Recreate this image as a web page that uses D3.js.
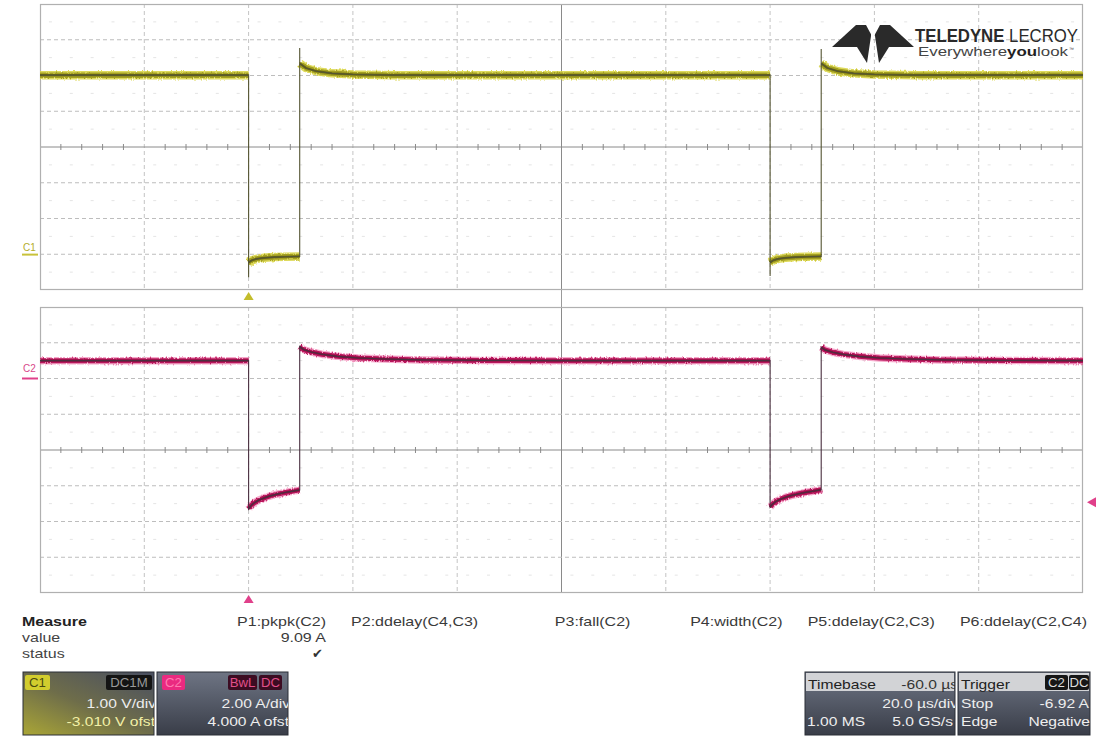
<!DOCTYPE html>
<html><head><meta charset="utf-8">
<script src="https://cdn.jsdelivr.net/npm/d3@7"></script>
<style>
html,body{margin:0;padding:0;background:#fff;}
svg{display:block;font-family:"Liberation Sans",Arial,sans-serif;}
</style></head><body>
<svg id="chart" width="1107" height="738"></svg>
<script>
// ---- acquisition settings ----
const timeDomain = [-40, 160];          // µs relative to trigger
const timeDivs = 10, vertDivs = 8;
const c1Setup = {perDiv: 1.00, offset: -3.010};   // V/div, V offset
const c2Setup = {perDiv: 2.00, offset: 4.000};    // A/div, A offset
const triggerTime = 0;
const triggerLevel = -6.92;             // A on C2

// ---- C1 : voltage (V) ----
const c1Time  = [-40, 0, 0, 0, 0.6, 1.5, 3, 5, 7, 9.8, 9.8, 9.8, 11, 13, 16, 20, 28, 100,
                 100, 100, 100.6, 101.5, 103, 105, 107, 109.8, 109.8, 109.8, 111, 113, 116, 120, 128, 160];
const c1Volts = [5.02, 5.02, -0.63, -0.22, -0.16, -0.12, -0.09, -0.07, -0.06, -0.05, 5.78, 5.35, 5.22, 5.13, 5.07, 5.04, 5.02, 5.02,
                 -0.60, -0.22, -0.16, -0.12, -0.09, -0.07, -0.06, -0.05, 5.75, 5.35, 5.22, 5.13, 5.07, 5.04, 5.02, 5.02];

// ---- C2 : current (A) ----
const c2Time = [-40, 0, 0, 0.5, 1, 2, 3, 4, 5.5, 7, 8.5, 9.8, 9.8, 10.5, 12, 14, 17, 21, 26, 33, 45, 60, 100,
                100, 100.5, 101, 102, 103, 104, 105.5, 107, 108.5, 109.8, 109.8, 110.5, 112, 114, 117, 121, 126, 133, 145, 160];
const c2Amps = [1.00, 1.00, -7.30, -7.10, -6.97, -6.80, -6.68, -6.58, -6.47, -6.38, -6.30, -6.24, 1.79, 1.62, 1.48, 1.36, 1.24, 1.15, 1.09, 1.04, 1.01, 1.00, 1.00,
                -7.20, -7.02, -6.90, -6.75, -6.64, -6.55, -6.45, -6.36, -6.29, -6.22, 1.75, 1.60, 1.47, 1.35, 1.24, 1.15, 1.09, 1.04, 1.01, 1.00];

// ---- measurement table ----
const measureNames  = ["P1:pkpk(C2)", "P2:ddelay(C4,C3)", "P3:fall(C2)", "P4:width(C2)", "P5:ddelay(C2,C3)", "P6:ddelay(C2,C4)"];
const measureValues = ["9.09 A", "", "", "", "", ""];
const measureStatus = ["\u2714", "", "", "", "", ""];
const measureRows   = ["Measure", "value", "status"];

const svg = d3.select("#chart");
const defs = svg.append("defs");

const X0 = 40, X1 = 1083;
const panels = [{y0: 4, y1: 290}, {y0: 307, y1: 593}];

const x = d3.scaleLinear().domain(timeDomain).range([X0, X1]);
function chanScale(setup, p) {
  const half = vertDivs / 2 * setup.perDiv;
  return d3.scaleLinear().domain([-half - setup.offset, half - setup.offset]).range([p.y1, p.y0]);
}
const y1s = chanScale(c1Setup, panels[0]);
const y2s = chanScale(c2Setup, panels[1]);

// widen a text element horizontally (the display font runs wide)
function widen(sel, k) {
  const n = sel.node();
  const w = n.getComputedTextLength();
  sel.attr("textLength", w * k).attr("lengthAdjust", "spacingAndGlyphs");
  return sel;
}

// noisy-edge filter for the acquisition traces
const noise = defs.append("filter").attr("id", "jitter").attr("filterUnits", "userSpaceOnUse")
  .attr("x", 0).attr("y", 0).attr("width", 1107).attr("height", 738);
noise.append("feTurbulence").attr("type", "fractalNoise").attr("baseFrequency", "0.8 0.25").attr("numOctaves", 2).attr("seed", 3).attr("result", "n");
noise.append("feDisplacementMap").attr("in", "SourceGraphic").attr("in2", "n").attr("scale", 3)
  .attr("xChannelSelector", "R").attr("yChannelSelector", "G");

// ---- graticule ----
function drawGrid(p) {
  const g = svg.append("g");
  const dx = (X1 - X0) / timeDivs, dy = (p.y1 - p.y0) / vertDivs;
  for (let j = 0; j < vertDivs; j++) {
    const yy = p.y0 + (j + 0.5) * dy;
    for (let i = 0; i < timeDivs * 5; i++) {
      const xx = X0 + (i + 0.5) * dx / 5;
      g.append("line").attr("x1", xx - 1.5).attr("x2", xx + 1.5).attr("y1", yy).attr("y2", yy)
        .attr("stroke", "#e4e4e4").attr("stroke-width", 1);
    }
  }
  for (let i = 1; i < timeDivs; i++) {
    const xx = X0 + i * dx;
    const centre = i === timeDivs / 2;
    g.append("line").attr("x1", xx).attr("x2", xx).attr("y1", p.y0).attr("y2", p.y1)
      .attr("stroke", centre ? "#8a8a8a" : "#c4c4c4").attr("stroke-width", 1)
      .attr("stroke-dasharray", centre ? null : "4,3");
  }
  for (let j = 1; j < vertDivs; j++) {
    const yy = p.y0 + j * dy;
    const centre = j === vertDivs / 2;
    g.append("line").attr("x1", X0).attr("x2", X1).attr("y1", yy).attr("y2", yy)
      .attr("stroke", centre ? "#8a8a8a" : "#bdbdbd").attr("stroke-width", 1)
      .attr("stroke-dasharray", centre ? null : "4,3");
  }
  const yc = p.y0 + vertDivs / 2 * dy;
  for (let i = 1; i < timeDivs * 5; i++) {
    if (i % 5 === 0) continue;
    const xx = X0 + i * dx / 5;
    g.append("line").attr("x1", xx).attr("x2", xx).attr("y1", yc - 3).attr("y2", yc + 3)
      .attr("stroke", "#8a8a8a").attr("stroke-width", 1);
  }
  g.append("rect").attr("x", X0 + 0.5).attr("y", p.y0 + 0.5).attr("width", X1 - X0 - 1).attr("height", p.y1 - p.y0 - 1)
    .attr("fill", "none").attr("stroke", "#b0b0b0").attr("stroke-width", 1.2);
}
panels.forEach(drawGrid);
svg.append("line").attr("x1", (X0 + X1) / 2).attr("x2", (X0 + X1) / 2)
  .attr("y1", panels[0].y1).attr("y2", panels[1].y0).attr("stroke", "#9a9a9a");

// ---- traces ----
function toPoints(ts, vs) { return ts.map((t, i) => [t, vs[i]]); }
// flat runs between vertical edges (an edge = repeated time stamp)
function flatSegments(pts) {
  const segs = []; let cur = [pts[0]];
  for (let i = 1; i < pts.length; i++) {
    if (pts[i][0] === pts[i - 1][0]) { if (cur.length > 1) segs.push(cur); cur = [pts[i]]; }
    else cur.push(pts[i]);
  }
  if (cur.length > 1) segs.push(cur);
  return segs;
}
function drawTrace(pts, ys, style) {
  const line = d3.line().x(d => x(d[0])).y(d => ys(d[1]));
  const g = svg.append("g");
  const segs = flatSegments(pts);
  style.bands.forEach(b => {
    g.append("g").attr("filter", b.jitter ? "url(#jitter)" : null)
      .selectAll(null).data(segs).join("path").attr("d", line)
      .attr("fill", "none").attr("stroke", b.color).attr("stroke-width", b.width)
      .attr("stroke-opacity", b.opacity).attr("stroke-linejoin", "round").attr("stroke-linecap", "butt");
  });
  g.append("path").attr("d", line(pts)).attr("fill", "none")
    .attr("stroke", style.core).attr("stroke-width", 1.1).attr("stroke-linejoin", "miter");
}
drawTrace(toPoints(c1Time, c1Volts), y1s, {
  bands: [{color: "#d8d440", width: 8.5, opacity: 0.85, jitter: true}, {color: "#a4a024", width: 5.5, opacity: 1, jitter: true}, {color: "#6a6814", width: 2.2, opacity: 1}],
  core: "#555533"
});
drawTrace(toPoints(c2Time, c2Amps), y2s, {
  bands: [{color: "#f070a8", width: 7.5, opacity: 0.6, jitter: true}, {color: "#b8185c", width: 5, opacity: 1, jitter: true}, {color: "#85103f", width: 2.2, opacity: 1}],
  core: "#4a3040"
});

// ---- channel zero markers & labels ----
svg.append("text").attr("x", 23).attr("y", y1s(0) - 4).attr("font-size", 10).attr("fill", "#b3ad2a").text("C1");
svg.append("line").attr("x1", 22).attr("x2", 38).attr("y1", y1s(0)).attr("y2", y1s(0)).attr("stroke", "#c8c23a").attr("stroke-width", 2);
svg.append("text").attr("x", 23).attr("y", y2s(0) - 7).attr("font-size", 10).attr("fill", "#d8488a").text("C2");
svg.append("line").attr("x1", 22).attr("x2", 38).attr("y1", y2s(0)).attr("y2", y2s(0)).attr("stroke", "#e0408a").attr("stroke-width", 2);

// trigger position markers
const tx = x(triggerTime);
svg.append("path").attr("d", `M${tx},${panels[0].y1 + 2} l5,8 h-10 z`).attr("fill", "#c3bd2c");
svg.append("path").attr("d", `M${tx},${panels[1].y1 + 2} l5,8 h-10 z`).attr("fill", "#e0408a");
// trigger level marker
const ty = y2s(triggerLevel);
svg.append("path").attr("d", `M${X1 + 4},${ty} l9,-5 v10 z`).attr("fill", "#e0408a");

// ---- logo ----
const logo = svg.append("g").attr("fill", "#2a2a2a");
logo.append("path").attr("d", "M832,47 L856,25 L871,25 L871,36 L867,63 L857,47 Z");
logo.append("path").attr("d", "M914,47 L890,25 L875,25 L875,36 L879,63 L889,47 Z");
logo.append("path").attr("d", "M866,25 L880,25 L873,38 Z").attr("fill", "#fff");
const lt = logo.append("text").attr("x", 915).attr("y", 42).attr("font-size", 18).attr("fill", "#2a2a2a")
  .attr("textLength", 163).attr("lengthAdjust", "spacingAndGlyphs");
lt.append("tspan").attr("font-weight", "bold").text("TELEDYNE ");
lt.append("tspan").text("LECROY");
const ev = logo.append("text").attr("x", 918).attr("y", 56).attr("font-size", 13).attr("fill", "#444")
  .attr("textLength", 150).attr("lengthAdjust", "spacingAndGlyphs");
ev.append("tspan").text("Everywhere");
ev.append("tspan").attr("font-weight", "bold").attr("fill", "#222").text("you");
ev.append("tspan").text("look");
logo.append("text").attr("x", 1069).attr("y", 51).attr("font-size", 5).attr("fill", "#444").text("\u2122");

// ---- measurement table ----
const K = 1.23;
const mt = svg.append("g").attr("font-size", 13).attr("fill", "#3a3a3a");
const rowY = [626, 642, 658];
measureRows.forEach((r, i) => widen(mt.append("text").attr("x", 22).attr("y", rowY[i])
  .attr("font-weight", i === 0 ? "bold" : null).attr("fill", i === 0 ? "#222" : "#444").text(r), K));
const colX = d3.scaleLinear().domain([0, 5]).range([326, 1087]);
measureNames.forEach((n, i) => {
  widen(mt.append("text").attr("x", colX(i)).attr("y", rowY[0]).attr("text-anchor", "end").text(n), K);
  if (measureValues[i]) widen(mt.append("text").attr("x", colX(i)).attr("y", rowY[1]).attr("text-anchor", "end").text(measureValues[i]), K);
  if (measureStatus[i]) mt.append("text").attr("x", colX(i) - 3).attr("y", rowY[2]).attr("text-anchor", "end").attr("font-size", 13).attr("fill", "#333").text(measureStatus[i]);
});

// ---- descriptor boxes ----
function grad(id, stops, x2 = "0", y2 = "1", x1 = "0", y1 = "0") {
  const g = defs.append("linearGradient").attr("id", id).attr("x1", x1).attr("y1", y1).attr("x2", x2).attr("y2", y2);
  stops.forEach(s => g.append("stop").attr("offset", s[0]).attr("stop-color", s[1]));
}
grad("boxBody", [[0, "#6e7483"], [0.3, "#5e6472"], [1, "#393d48"]]);
grad("c1Glow", [[0, "#aaa636"], [0.5, "#6e6d4a"], [1, "#4c5160"]], "0.9", "0", "0", "1");

function box(x0, w, fill, header) {
  const id = "clip" + x0;
  defs.append("clipPath").attr("id", id).append("rect").attr("x", x0).attr("y", 672).attr("width", w).attr("height", 63);
  const g = svg.append("g").attr("font-size", 13);
  g.append("rect").attr("x", x0).attr("y", 672).attr("width", w).attr("height", 63).attr("fill", fill).attr("stroke", "#2b2e36");
  if (header) g.append("rect").attr("x", x0 + 1).attr("y", 673).attr("width", w - 2).attr("height", 18).attr("fill", "#d2d3d6");
  return g.append("g").attr("clip-path", `url(#${id})`);
}
function tag(g, x0, w, txt, bg, fg) {
  g.append("rect").attr("x", x0).attr("y", 675).attr("width", w).attr("height", 15).attr("rx", 2).attr("fill", bg);
  widen(g.append("text").attr("x", x0 + w / 2).attr("y", 687).attr("text-anchor", "middle").attr("font-size", 12).attr("fill", fg).text(txt), 1.1);
}
function label(g, x0, yb, txt, color, anchor) {
  return widen(g.append("text").attr("x", x0).attr("y", yb).attr("text-anchor", anchor || "start").attr("fill", color).text(txt), 1.2);
}
const RY = [689, 708, 726];
// C1
const b1 = box(23, 131, "url(#c1Glow)");
tag(b1, 25, 25, "C1", "#d2cd2e", "#4a4a10");
tag(b1, 106, 46, "DC1M", "#141414", "#9a9a9a");
label(b1, 156, RY[1], "1.00 V/div", "#eeeeee", "end");
label(b1, 155, RY[2], "-3.010 V ofst", "#f2f0a6", "end");
// C2
const b2 = box(157, 131, "url(#boxBody)");
tag(b2, 162, 23, "C2", "#ea2a80", "#ff7ab0");
tag(b2, 228, 29, "BwL", "#3c0c22", "#e0508a");
tag(b2, 259, 23, "DC", "#3c0c22", "#e0508a");
label(b2, 290, RY[1], "2.00 A/div", "#eeeeee", "end");
label(b2, 289, RY[2], "4.000 A ofst", "#eeeeee", "end");
// Timebase
const b3 = box(805, 150, "url(#boxBody)", true);
label(b3, 808, RY[0], "Timebase", "#222");
label(b3, 958, RY[0], "-60.0 \u00b5s", "#333", "end");
label(b3, 958, RY[1], "20.0 \u00b5s/div", "#eeeeee", "end");
label(b3, 807, RY[2], "1.00 MS", "#eeeeee");
label(b3, 953, RY[2], "5.0 GS/s", "#eeeeee", "end");
// Trigger
const b4 = box(958, 132, "url(#boxBody)", true);
label(b4, 961, RY[0], "Trigger", "#222");
tag(b4, 1045, 23, "C2", "#161616", "#dddddd");
tag(b4, 1069, 20, "DC", "#161616", "#dddddd");
label(b4, 961, RY[1], "Stop", "#eeeeee");
label(b4, 1089, RY[1], "-6.92 A", "#eeeeee", "end");
label(b4, 961, RY[2], "Edge", "#eeeeee");
label(b4, 1090, RY[2], "Negative", "#eeeeee", "end");
</script>
</body></html>
